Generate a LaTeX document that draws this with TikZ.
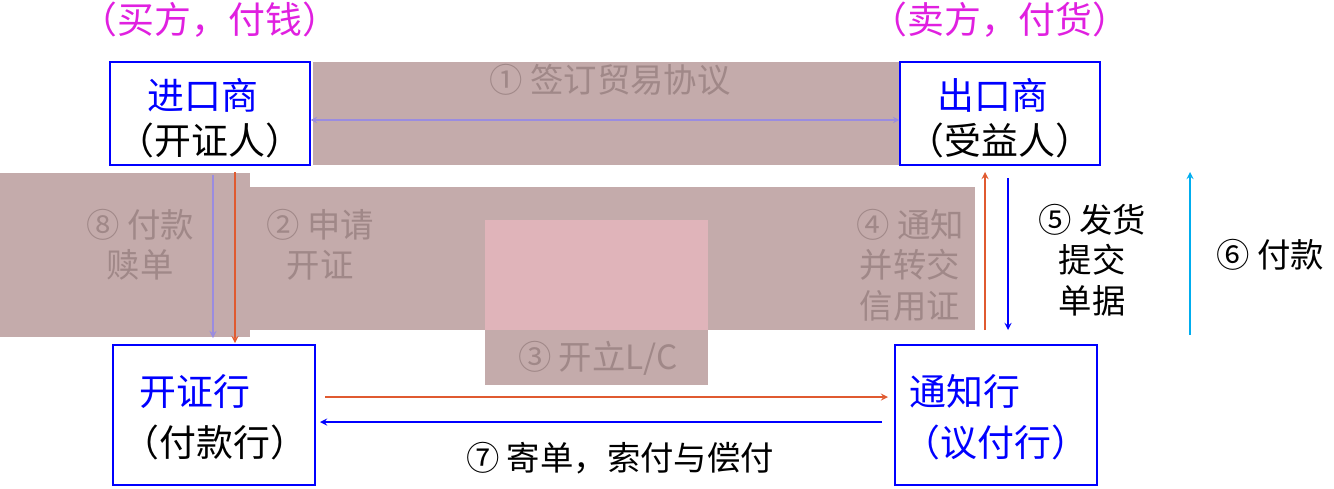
\documentclass[tikz,border=0pt]{standalone}
\usepackage{fontspec}
\setmainfont{Noto Sans CJK SC}
\begin{document}
\begin{tikzpicture}[x=0.02cm,y=-0.02cm,
  box/.style={draw=blue,line width=0.8pt,fill=white},
  big/.style={font=\fontsize{21}{25}\selectfont,align=center},
  lab/.style={font=\fontsize{19}{23}\selectfont,align=center},
  arr/.style={->,line width=0.8pt,>=stealth}]
\useasboundingbox (0,0) rectangle (1334,488);
\definecolor{br}{HTML}{C4ABAB}\definecolor{pk}{HTML}{E0B4BA}\definecolor{gt}{HTML}{A08888}
\definecolor{mg}{HTML}{E020E0}\definecolor{og}{HTML}{E05A30}\definecolor{lp}{HTML}{9A8CE0}
\fill[br] (313,62) rectangle (900,165);
\fill[br] (0,173) rectangle (250,337);
\fill[br] (250,187) rectangle (975,330);
\fill[pk] (485,220) rectangle (708,330);
\fill[br] (485,330) rectangle (708,385);
\node[big,text=mg] (m1) at (210,20) {（买方，付钱）};
\node[big,text=mg] (m2) at (1000,20) {（卖方，付货）};
\node[box,minimum width=200*0.02cm,minimum height=103*0.02cm] (imp) at (210,113.5) {};
\node[big,text=blue] at (203,95) {进口商};
\node[big] at (210,140) {（开证人）};
\node[box,minimum width=200*0.02cm,minimum height=103*0.02cm] (exp) at (1000,113.5) {};
\node[big,text=blue] at (993,95) {出口商};
\node[big] at (1000,140) {（受益人）};
\node[box,minimum width=202*0.02cm,minimum height=140*0.02cm] (ib) at (214,415) {};
\node[big,text=blue] at (195,392) {开证行};
\node[big] at (215,442) {（付款行）};
\node[box,minimum width=202*0.02cm,minimum height=140*0.02cm] (nb) at (996,415) {};
\node[big,text=blue] at (965,392) {通知行};
\node[big,text=blue] at (996,442) {（议付行）};
\node[lab,text=gt] (t1) at (610,80) {① 签订贸易协议};
\node[lab,text=gt] (t8) at (140,245) {⑧ 付款\\赎单};
\node[lab,text=gt] (t2) at (320,245) {② 申请\\开证};
\node[lab,text=gt] (t4) at (910,265) {④ 通知\\并转交\\信用证};
\node[lab,text=gt] (t3) at (598,358) {③ 开立L/C};
\node[lab] (t7) at (620,458) {⑦ 寄单，索付与偿付};
\node[lab] (t5) at (1092,260) {⑤ 发货\\提交\\单据};
\node[lab] (t6) at (1270,255) {⑥ 付款};
\coordinate (a1) at (imp.east|-0,120); \coordinate (a2) at (exp.west|-0,120);
\draw[<->,>=stealth,lp,line width=0.6pt] (a1) -- (a2);
\coordinate (p1) at (213,175); \coordinate (p2) at (213,338);
\draw[arr,lp] (p1) -- (p2);
\coordinate (o1) at (235,172); \coordinate (o2) at (235,343);
\draw[arr,og] (o1) -- (o2);
\coordinate (h1) at (325,397); \coordinate (h2) at (888,397);
\draw[arr,og] (h1) -- (h2);
\coordinate (b1) at (882,422); \coordinate (b2) at (320,422);
\draw[arr,blue] (b1) -- (b2);
\coordinate (u1) at (985,330); \coordinate (u2) at (985,172);
\draw[arr,og] (u1) -- (u2);
\coordinate (d1) at (1008,178); \coordinate (d2) at (1008,330);
\draw[arr,blue] (d1) -- (d2);
\coordinate (c1) at (1190,335); \coordinate (c2) at (1190,172);
\draw[arr,cyan] (c1) -- (c2);
\end{tikzpicture}
\end{document}
